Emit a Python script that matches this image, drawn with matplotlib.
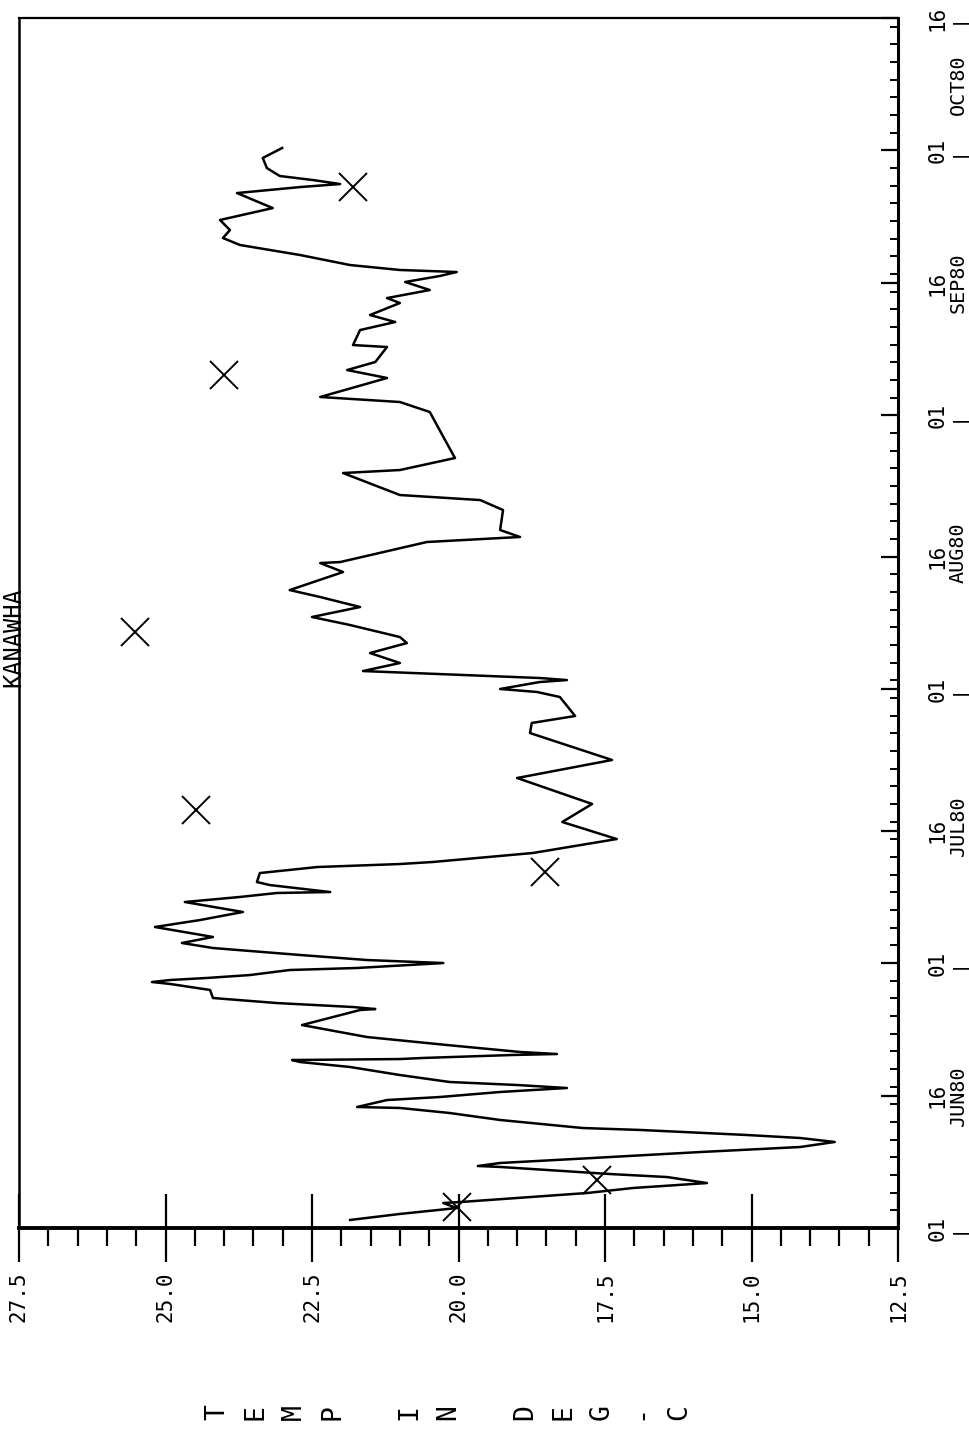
import matplotlib
matplotlib.use("Agg")
import matplotlib.pyplot as plt
import matplotlib.transforms as mtransforms
import numpy as np

# days since 01 JUN 1980, temperature in deg C (continuous record)
days = [
    0.91, 1.59, 2.26, 2.83, 2.94, 3.96, 4.53, 5.09, 5.77, 6.11,
    6.91, 7.02, 7.36, 7.93, 8.60, 9.17, 9.74, 10.19, 10.53, 11.10,
    11.32, 12.23, 13.02, 13.59, 13.70, 14.49, 14.83, 15.40, 15.85, 16.19,
    16.53, 17.32, 18.23, 18.79, 19.02, 19.13, 19.25, 19.59, 19.70, 19.93,
    20.72, 21.62, 22.98, 24.68, 24.79, 25.02, 25.47, 26.04, 26.95, 27.63,
    27.85, 28.08, 28.31, 28.64, 29.21, 29.44, 30.00, 30.12, 30.34, 30.91,
    31.70, 32.27, 32.95, 34.08, 34.87, 35.78, 36.91, 37.48, 37.93, 38.04,
    38.83, 39.17, 40.19, 40.87, 41.21, 41.44, 42.46, 44.04, 45.97, 48.01,
    50.95, 52.99, 56.04, 57.18, 57.97, 60.12, 60.69, 61.03, 61.82, 62.04,
    62.27, 62.72, 62.95, 63.06, 63.97, 65.10, 66.23, 66.91, 68.27, 69.18,
    70.31, 71.44, 72.23, 74.27, 75.29, 75.40, 77.67, 78.12, 78.24, 79.03,
    81.29, 82.42, 82.99, 85.48, 85.82, 87.18, 89.22, 92.39, 93.52, 94.09,
    96.24, 97.14, 98.05, 99.75, 99.97, 101.67, 102.58, 103.37, 104.73, 105.29,
    106.20, 107.11, 107.79, 108.24, 108.47, 109.03, 110.16, 111.30, 112.09, 112.99,
    114.13, 115.48, 117.18, 117.86, 118.20, 118.65, 119.11, 120.01, 121.15, 122.28,
]
temps = [
    21.85, 21.00, 20.03, 20.26, 19.97, 17.81, 17.02, 15.76, 16.44, 17.41,
    19.29, 19.67, 19.29, 17.70, 15.88, 14.17, 13.58, 14.17, 15.08, 16.90,
    17.88, 19.29, 20.15, 21.00, 21.73, 21.22, 20.32, 19.29, 18.15, 19.00,
    20.15, 21.00, 21.85, 22.70, 22.84, 21.00, 20.61, 19.07, 18.32, 18.95,
    20.20, 21.56, 22.67, 21.68, 21.42, 21.80, 23.10, 24.19, 24.24, 24.92,
    25.23, 24.92, 24.29, 23.56, 22.88, 21.73, 20.26, 20.71, 21.56, 22.70,
    24.19, 24.72, 24.19, 25.18, 24.41, 23.68, 24.67, 23.73, 23.10, 22.19,
    23.22, 23.44, 23.39, 22.41, 21.00, 20.44, 18.73, 17.30, 18.23, 17.72,
    19.00, 17.38, 18.78, 18.75, 18.01, 18.27, 18.66, 19.29, 18.61, 18.15,
    18.61, 20.32, 21.22, 21.63, 21.00, 21.51, 20.88, 21.00, 21.85, 22.50,
    21.68, 22.36, 22.88, 21.97, 22.36, 22.02, 20.54, 19.29, 18.95, 19.29,
    19.24, 19.63, 21.00, 21.97, 21.00, 20.06, 20.23, 20.49, 21.00, 22.36,
    21.22, 21.90, 21.42, 21.22, 21.80, 21.68, 21.08, 21.51, 21.00, 21.22,
    20.49, 20.91, 20.32, 20.03, 21.00, 21.85, 22.70, 23.73, 24.02, 23.90,
    24.07, 23.17, 23.78, 22.70, 22.02, 22.48, 23.05, 23.27, 23.34, 23.01,
]

# discrete samples (X symbols)
sample_days = [2.38, 5.43, 40.31, 47.33, 67.48, 96.58, 117.86]
sample_temps = [20.03, 17.64, 18.52, 24.48, 25.52, 24.00, 21.80]

temp_ticks = [27.5, 25.0, 22.5, 20.0, 17.5, 15.0, 12.5]
date_ticks = [0, 15, 30, 45, 61, 76, 92, 107, 122, 137]
date_labels = ["01", "16", "01", "16", "01", "16", "01", "16", "01", "16"]
month_starts = [0, 30, 61, 92, 122, 137]
month_names = ["JUN80", "JUL80", "AUG80", "SEP80", "OCT80"]

TITLE = "KANAWHA"
YLABEL = "TEMP IN DEG-C"

FONT = "DejaVu Sans Mono"
W, H = 969, 1444
fig = plt.figure(figsize=(W / 100, H / 100), dpi=100)
fig.patch.set_facecolor("white")
ax = fig.add_axes([19 / W, 1 - 1228 / H, (898 - 19) / W, (1228 - 18) / H])

ax.plot(temps, days, color="black", linewidth=1.8)
ax.plot(sample_temps, sample_days, linestyle="none", marker="x",
        color="black", markersize=20, markeredgewidth=1.4)

ax.set_xlim(27.5, 12.5)
ax.set_ylim(0, 137)

ax.spines["left"].set_linewidth(1.8)
ax.spines["top"].set_linewidth(1.6)
ax.spines["bottom"].set_linewidth(2.8)
ax.spines["right"].set_linewidth(2.2)

# temperature axis (bottom)
ax.set_xticks(temp_ticks)
ax.set_xticklabels([f"{t:.1f}" for t in temp_ticks], rotation=90,
                   fontsize=15, family=FONT)
ax.set_xticks(np.arange(12.5, 27.51, 0.5), minor=True)
ax.tick_params(axis="x", which="major", direction="inout", length=49,
               width=1.6, pad=7)
ax.tick_params(axis="x", which="minor", direction="out", length=13, width=1.6)

# time axis (right)
ax.yaxis.tick_right()
ax.set_yticks(date_ticks)
ax.set_yticklabels(date_labels, rotation=90, fontsize=15, family=FONT,
                   va="center")
ax.set_yticks(np.arange(0, 138, 2), minor=True)
ax.tick_params(axis="y", which="major", direction="in", length=12,
               width=1.6, pad=21)
ax.tick_params(axis="y", which="minor", direction="in", length=6, width=1.4)

trans = mtransforms.blended_transform_factory(ax.transAxes, ax.transData)
xm = (958 - 19) / (898 - 19)
for d in month_starts:
    ax.text(xm, d, "|", transform=trans, rotation=90, ha="center",
            va="center", fontsize=14.5, family=FONT, clip_on=False)
for a, b, name in zip(month_starts[:-1], month_starts[1:], month_names):
    ax.text(xm, (a + b) / 2, name, transform=trans, rotation=90,
            ha="center", va="center", fontsize=14.5, family=FONT,
            clip_on=False)

# stacked axis label, one rotated letter at a time
x0, step = 217, 38.5
for i, ch in enumerate(YLABEL):
    if ch == " ":
        continue
    fig.text((x0 + i * step) / W, 1 - 1412 / H, ch, rotation=90,
             ha="center", va="center", fontsize=19, family=FONT)

# title sits in the narrow strip left of the frame
fig.text(1 / W, 1 - 637 / H, TITLE, rotation=90, ha="left", va="center",
         fontsize=17, family=FONT)

fig.savefig("out.png", dpi=100)
